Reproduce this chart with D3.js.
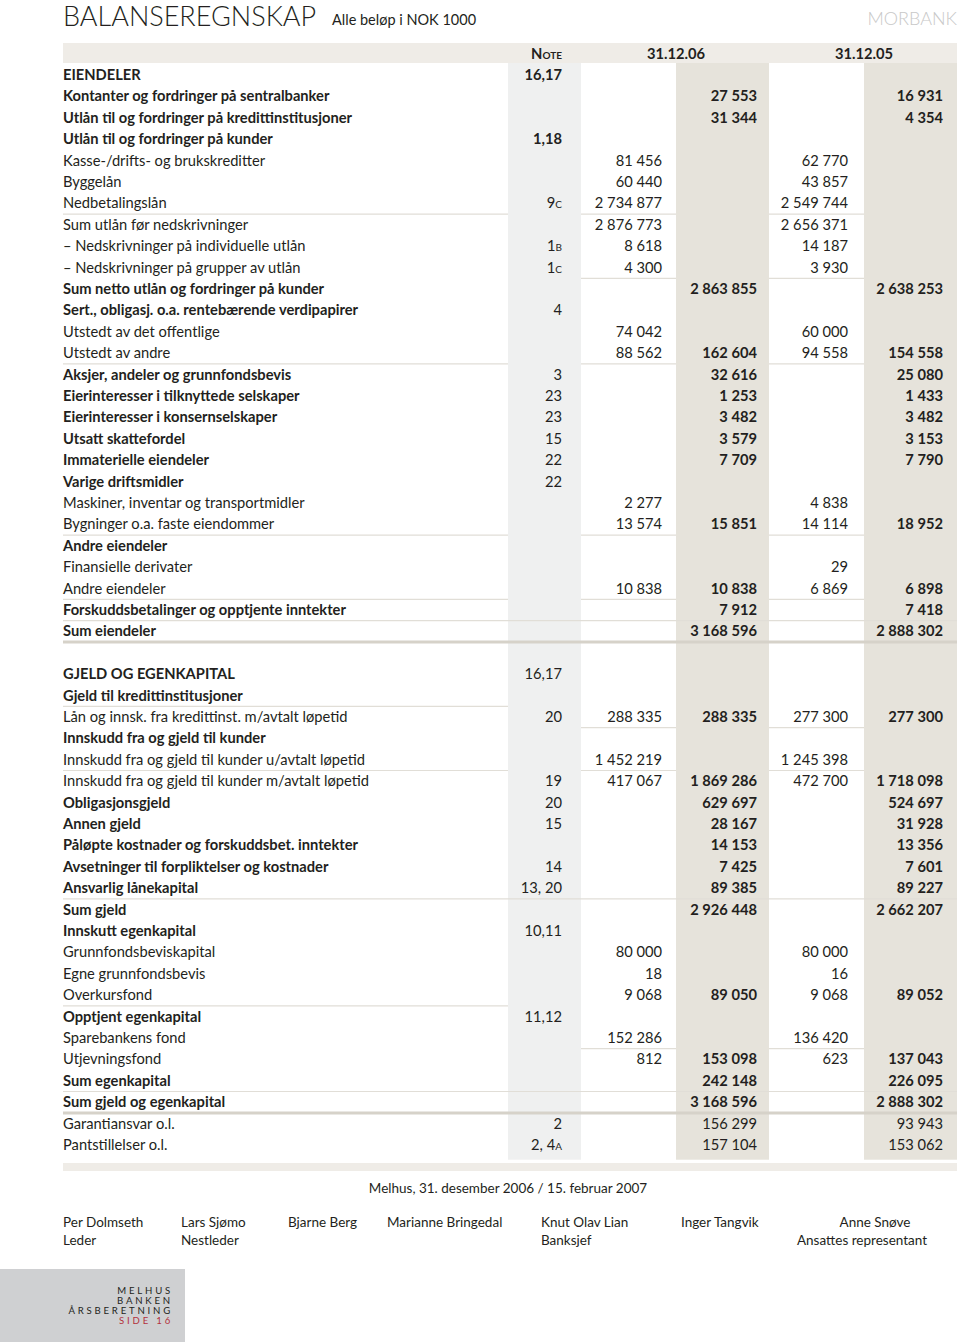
<!DOCTYPE html>
<html lang="no">
  <head>
    <meta charset="utf-8">
    <script src="https://d3js.org/d3.v7.min.js"></script>
    <style>
    body { margin: 0; background: #fff; }
    text { font-family: Lato, "DejaVu Sans", sans-serif; fill: #231f20; }
    </style>
  </head>
  <body>
    <div id="place"></div>
    <script type="text/javascript">
    // rows of the balance sheet, "" = blank spacer row
    const rowLabels = [
      "EIENDELER",
      "Kontanter og fordringer på sentralbanker",
      "Utlån til og fordringer på kredittinstitusjoner",
      "Utlån til og fordringer på kunder",
      "Kasse-/drifts- og brukskreditter",
      "Byggelån",
      "Nedbetalingslån",
      "Sum utlån før nedskrivninger",
      "– Nedskrivninger på individuelle utlån",
      "– Nedskrivninger på grupper av utlån",
      "Sum netto utlån og fordringer på kunder",
      "Sert., obligasj. o.a. rentebærende verdipapirer",
      "Utstedt av det offentlige",
      "Utstedt av andre",
      "Aksjer, andeler og grunnfondsbevis",
      "Eierinteresser i tilknyttede selskaper",
      "Eierinteresser i konsernselskaper",
      "Utsatt skattefordel",
      "Immaterielle eiendeler",
      "Varige driftsmidler",
      "Maskiner, inventar og transportmidler",
      "Bygninger o.a. faste eiendommer",
      "Andre eiendeler",
      "Finansielle derivater",
      "Andre eiendeler",
      "Forskuddsbetalinger og opptjente inntekter",
      "Sum eiendeler",
      "",
      "GJELD OG EGENKAPITAL",
      "Gjeld til kredittinstitusjoner",
      "Lån og innsk. fra kredittinst. m/avtalt løpetid",
      "Innskudd fra og gjeld til kunder",
      "Innskudd fra og gjeld til kunder u/avtalt løpetid",
      "Innskudd fra og gjeld til kunder m/avtalt løpetid",
      "Obligasjonsgjeld",
      "Annen gjeld",
      "Påløpte kostnader og forskuddsbet. inntekter",
      "Avsetninger til forpliktelser og kostnader",
      "Ansvarlig lånekapital",
      "Sum gjeld",
      "Innskutt egenkapital",
      "Grunnfondsbeviskapital",
      "Egne grunnfondsbevis",
      "Overkursfond",
      "Opptjent egenkapital",
      "Sparebankens fond",
      "Utjevningsfond",
      "Sum egenkapital",
      "Sum gjeld og egenkapital",
      "Garantiansvar o.l.",
      "Pantstillelser o.l."
    ];
    // h = heading / total line, d = detail line
    const rowLevel = [
      "h","h","h","h","d","d","d","d","d","d","h","h","d","d","h","h","h","h","h","h","d","d","h","d","d","h","h",
      "",
      "h","h","d","h","d","d","h","h","h","h","h","h","h","d","d","d","h","d","d","h","h","d","d"
    ];
    const noteRefs = [
      "16,17","","","1,18","","","9c","","1b","1c","","4","","","3","23","23","15","22","22","","","","","","","",
      "",
      "16,17","","20","","","19","20","15","","14","13, 20","","10,11","","","","11,12","","","","","2","2, 4a"
    ];
    const sub06 = [
      null,null,null,null,81456,60440,2734877,2876773,8618,4300,null,null,74042,88562,null,null,null,null,null,null,2277,13574,null,null,10838,null,null,
      null,
      null,null,288335,null,1452219,417067,null,null,null,null,null,null,null,80000,18,9068,null,152286,812,null,null,null,null
    ];
    const sum06 = [
      null,27553,31344,null,null,null,null,null,null,null,2863855,null,null,162604,32616,1253,3482,3579,7709,null,null,15851,null,null,10838,7912,3168596,
      null,
      null,null,288335,null,null,1869286,629697,28167,14153,7425,89385,2926448,null,null,null,89050,null,null,153098,242148,3168596,156299,157104
    ];
    const sub05 = [
      null,null,null,null,62770,43857,2549744,2656371,14187,3930,null,null,60000,94558,null,null,null,null,null,null,4838,14114,null,29,6869,null,null,
      null,
      null,null,277300,null,1245398,472700,null,null,null,null,null,null,null,80000,16,9068,null,136420,623,null,null,null,null
    ];
    const sum05 = [
      null,16931,4354,null,null,null,null,null,null,null,2638253,null,null,154558,25080,1433,3482,3153,7790,null,null,18952,null,null,6898,7418,2888302,
      null,
      null,null,277300,null,null,1718098,524697,31928,13356,7601,89227,2662207,null,null,null,89052,null,null,137043,226095,2888302,93943,153062
    ];
    const boldNotes = [0, 3];
    const plainSums = [49, 50];
    // rule drawn under a row: label area, sub columns, both, full width, or heavy
    const rulesAfter = {6:"open", 9:"sub", 13:"open", 21:"open", 24:"open", 25:"full", 26:"thick",
                        29:"label", 30:"sub", 32:"open", 38:"full", 43:"label", 45:"sub", 47:"full", 48:"thick"};

    const headerCols = ["Note", "31.12.06", "31.12.05"];
    const signers = [
      ["Per Dolmseth", "Leder"], ["Lars Sjømo", "Nestleder"], ["Bjarne Berg", ""],
      ["Marianne Bringedal", ""], ["Knut Olav Lian", "Banksjef"], ["Inger Tangvik", ""],
      ["Anne Snøve", "Ansattes representant"]
    ];
    const pageTag = ["MELHUS", "BANKEN", "ÅRSBERETNING", "SIDE 16"];

    const width = 960, height = 1342;
    const left = 63, right = 957;
    const fs = "14.7px";

    const svg = d3.select("#place").append("svg")
      .attr("width", width).attr("height", height);

    const nf = d3.formatLocale({decimal: ",", thousands: "\u00a0", grouping: [3], currency: ["", ""]}).format(",d");

    const y = d3.scaleBand().domain(d3.range(rowLabels.length)).range([64.3, 64.3 + 21.4 * rowLabels.length]);
    const yc = i => y(i) + y.bandwidth() / 2;

    const colKeys = ["note", "sub06", "sum06", "sub05", "sum05"];
    const xRight = d3.scaleOrdinal().domain(colKeys).range([562, 662, 757, 848, 943]);
    const colBand = d3.scaleOrdinal().domain(colKeys).range([[508, 581], [581, 676], [676, 769], [769, 864], [864, 957]]);

    // title
    svg.append("text").attr("x", left).attr("y", 26)
      .style("font-size", "27px").style("font-weight", 300).text("BALANSEREGNSKAP");
    svg.append("text").attr("x", 332).attr("y", 25)
      .style("font-size", "14.5px").text("Alle beløp i NOK 1000");
    svg.append("text").attr("x", right).attr("y", 25).attr("text-anchor", "end")
      .style("font-size", "18px").style("fill", "#c8c8c8").style("font-weight", 300).text("MORBANK");

    // header band and column tints
    svg.append("rect").attr("x", left).attr("y", 43).attr("width", right - left).attr("height", 20).attr("fill", "#efece7");
    const bandTop = 63, bandBottom = y(rowLabels.length - 1) + y.bandwidth() + 4;
    [["note", "#eff0f0"], ["sum06", "#e6e3db"], ["sum05", "#e6e3db"]].forEach(([k, c]) => {
      const b = colBand(k);
      svg.append("rect").attr("x", b[0]).attr("y", bandTop).attr("width", b[1] - b[0])
        .attr("height", bandBottom - bandTop).attr("fill", c);
    });
    svg.append("rect").attr("x", left).attr("y", 1163).attr("width", right - left).attr("height", 8).attr("fill", "#efece7");

    svg.append("text").attr("x", xRight("note")).attr("y", 59).attr("text-anchor", "end")
      .style("font-size", fs).style("font-weight", 700).style("font-variant", "small-caps").text(headerCols[0]);
    svg.append("text").attr("x", colBand("sub06")[1]).attr("y", 59).attr("text-anchor", "middle")
      .style("font-size", fs).style("font-weight", 700).text(headerCols[1]);
    svg.append("text").attr("x", colBand("sub05")[1]).attr("y", 59).attr("text-anchor", "middle")
      .style("font-size", fs).style("font-weight", 700).text(headerCols[2]);

    // rules
    const ruleSpans = {
      label: [[left, 508]],
      sub: [colBand("sub06"), colBand("sub05")],
      open: [[left, 508], colBand("sub06"), colBand("sub05")],
      full: [[left, right]],
      thick: [[left, right]]
    };
    Object.entries(rulesAfter).forEach(([i, kind]) => {
      const ry = y(+i) + y.bandwidth();
      ruleSpans[kind].forEach(s => {
        svg.append("line").attr("x1", s[0]).attr("x2", s[1]).attr("y1", ry).attr("y2", ry)
          .attr("stroke", kind === "thick" ? "#d6d2c9" : "#e1ded7")
          .attr("stroke-width", kind === "thick" ? 3 : 1.2);
      });
    });

    // rows
    const rows = svg.append("g").selectAll("g").data(rowLabels).join("g")
      .attr("transform", (d, i) => `translate(0,${yc(i) + 5})`);

    rows.append("text").attr("x", left)
      .style("font-size", fs)
      .style("font-weight", (d, i) => rowLevel[i] === "h" ? 700 : 400)
      .text(d => d);

    rows.append("text").attr("x", xRight("note")).attr("text-anchor", "end")
      .style("font-size", fs).style("font-variant", "small-caps")
      .style("font-weight", (d, i) => boldNotes.includes(i) ? 700 : 400)
      .text((d, i) => noteRefs[i]);

    [["sub06", sub06], ["sum06", sum06], ["sub05", sub05], ["sum05", sum05]].forEach(([k, vals]) => {
      const isSum = k.startsWith("sum");
      rows.append("text").attr("x", xRight(k)).attr("text-anchor", "end")
        .style("font-size", fs)
        .style("font-weight", (d, i) => isSum && !plainSums.includes(i) ? 700 : 400)
        .text((d, i) => vals[i] == null ? "" : nf(vals[i]));
    });

    // place and date
    svg.append("text").attr("x", 508).attr("y", 1193).attr("text-anchor", "middle")
      .style("font-size", "13.5px").text("Melhus, 31. desember 2006 / 15. februar 2007");

    const signX = [63, 181, 288, 387, 541, 681, 875];
    signers.forEach((s, i) => {
      const last = i === signers.length - 1;
      const anchor = last ? "middle" : "start";
      svg.append("text").attr("x", signX[i]).attr("y", 1227).attr("text-anchor", anchor)
        .style("font-size", "13.5px").text(s[0]);
      svg.append("text").attr("x", last ? 862 : signX[i]).attr("y", 1245).attr("text-anchor", anchor)
        .style("font-size", "13.5px").text(s[1]);
    });

    // page tag
    svg.append("rect").attr("x", 0).attr("y", 1269).attr("width", 185).attr("height", 73).attr("fill", "#cfd0d2");
    pageTag.forEach((t, i) => {
      svg.append("text").attr("x", 173).attr("y", 1294 + i * 10).attr("text-anchor", "end")
        .style("font-size", "9.6px").style("letter-spacing", "2.8px")
        .style("fill", i === 3 ? "#b3323c" : "#231f20").text(t);
    });
    </script>
  </body>
</html>
